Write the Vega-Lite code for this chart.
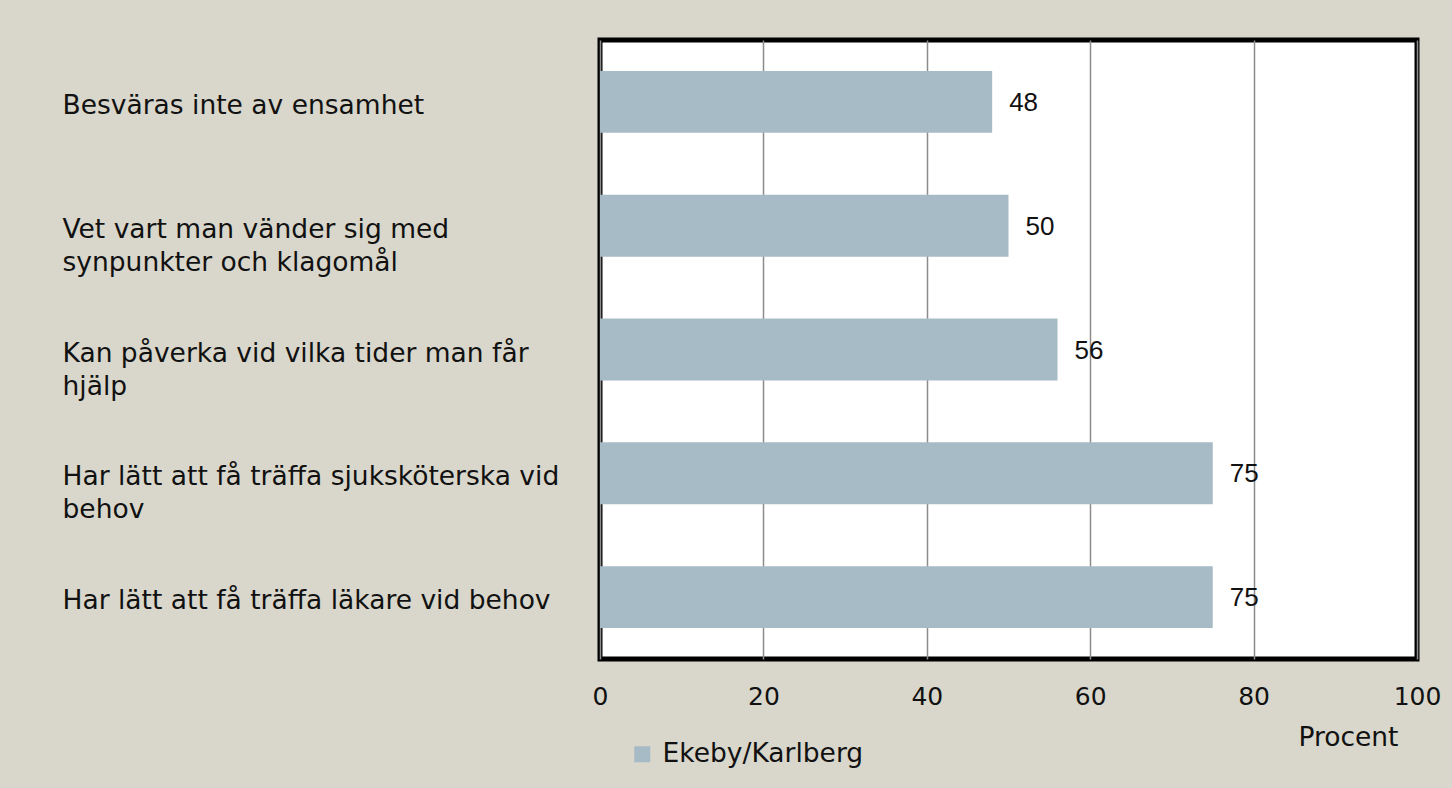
{
  "$schema": "https://vega.github.io/schema/vega-lite/v6.json",
  "width": 817,
  "height": 619,
  "autosize": {"type": "none"},
  "padding": {"left": 600, "top": 40, "right": 35, "bottom": 129},
  "background": "#d9d7cb",
  "config": {
    "view": {"fill": "white", "stroke": "black", "strokeWidth": 5},
    "font": "DejaVu Sans"
  },
  "data": {
    "values": [
      {"kategori": "Besväras inte av ensamhet", "procent": 48, "serie": "Ekeby/Karlberg"},
      {"kategori": "Vet vart man vänder sig med\nsynpunkter och klagomål", "procent": 50, "serie": "Ekeby/Karlberg"},
      {"kategori": "Kan påverka vid vilka tider man får\nhjälp", "procent": 56, "serie": "Ekeby/Karlberg"},
      {"kategori": "Har lätt att få träffa sjuksköterska vid\nbehov", "procent": 75, "serie": "Ekeby/Karlberg"},
      {"kategori": "Har lätt att få träffa läkare vid behov", "procent": 75, "serie": "Ekeby/Karlberg"}
    ]
  },
  "encoding": {
    "y": {
      "field": "kategori",
      "type": "nominal",
      "sort": null,
      "scale": {"paddingInner": 0.5, "paddingOuter": 0.25},
      "axis": {
        "title": null,
        "domain": false,
        "ticks": false,
        "tickSize": 0,
        "labelAlign": "left",
        "labelBaseline": "alphabetic",
        "labelOffset": 12,
        "labelPadding": 538,
        "labelLimit": 600,
        "labelFont": "DejaVu Sans",
        "labelFontSize": 26.5,
        "labelLineHeight": 33,
        "labelColor": "#111111",
        "labelExpr": "split(datum.label, '\\n')"
      }
    },
    "x": {
      "field": "procent",
      "type": "quantitative",
      "scale": {"domain": [0, 100], "nice": false},
      "axis": {
        "values": [0, 20, 40, 60, 80, 100],
        "domain": false,
        "ticks": false,
        "tickSize": 0,
        "grid": true,
        "gridColor": "#8c8c8c",
        "gridWidth": 1.5,
        "labelPadding": 25,
        "labelFont": "DejaVu Sans",
        "labelFontSize": 25,
        "labelColor": "#111111",
        "labelFlush": false,
        "title": "Procent",
        "titleFont": "DejaVu Sans",
        "titleFontSize": 26.5,
        "titleFontWeight": "normal",
        "titleColor": "#111111",
        "titleAlign": "right",
        "titleAnchor": null,
        "titleBaseline": "alphabetic",
        "titleX": 798,
        "titleY": 86
      }
    }
  },
  "layer": [
    {
      "mark": {"type": "bar"},
      "encoding": {
        "color": {
          "field": "serie",
          "type": "nominal",
          "scale": {"range": ["#a7bbc6"]},
          "legend": {
            "title": null,
            "orient": "none",
            "legendX": 29,
            "legendY": 701,
            "padding": 0,
            "symbolType": "square",
            "symbolSize": 256,
            "symbolStrokeWidth": 0,
            "labelOffset": 7,
            "labelLimit": 400,
            "labelFont": "DejaVu Sans",
            "labelFontSize": 26.5,
            "labelColor": "#111111"
          }
        }
      }
    },
    {
      "mark": {
        "type": "text",
        "align": "left",
        "baseline": "middle",
        "dx": 17,
        "dy": 1,
        "font": "Liberation Sans",
        "fontSize": 26,
        "color": "#111111"
      },
      "encoding": {
        "text": {"field": "procent", "type": "quantitative"}
      }
    }
  ]
}
